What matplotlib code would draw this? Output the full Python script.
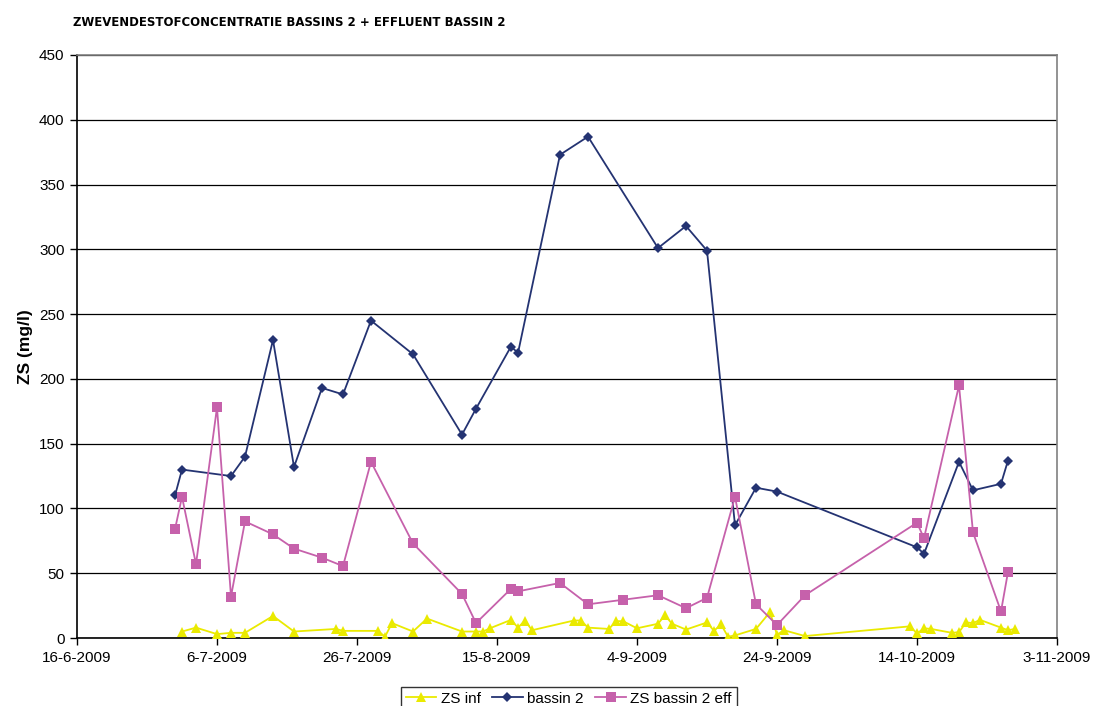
import datetime as dt
import matplotlib
matplotlib.use("Agg")
import matplotlib.pyplot as plt
import matplotlib.dates as mdates
from matplotlib.ticker import MultipleLocator, FuncFormatter

# Sampling days, counted from 16-6-2009
start = dt.date(2009, 6, 16)

inf_days = [15, 17, 20, 22, 24, 28, 31, 37, 38, 43, 44, 45, 48, 50, 55, 57, 58, 59,
            62, 63, 64, 65, 71, 72, 73, 76, 77, 78, 80, 83, 84, 85, 87, 90, 91, 92,
            93, 94, 97, 99, 100, 101, 104, 119, 120, 121, 122, 125, 126, 127, 128,
            129, 132, 133, 134]
zs_inf = [5, 8, 3, 4, 4, 17, 5, 7, 5.5, 5.5, 1, 11.5, 5, 15, 5, 5, 5, 7.5,
          14, 8, 13.5, 6, 13.5, 13.5, 8, 7, 13, 13, 7.5, 11, 17.5, 11, 6.5, 12, 5.5, 10.5,
          1, 2, 7, 20, 2.5, 6, 1.5, 9, 3.5, 7.5, 7, 4, 4.5, 12, 11.5,
          14, 8, 6, 7]

bassin_days = [14, 15, 22, 24, 28, 31, 35, 38, 42, 48, 55, 57, 62, 63, 69, 73, 83,
               87, 90, 94, 97, 100, 120, 121, 126, 128, 132, 133]
bassin2 = [110, 130, 125, 140, 230, 132, 193, 188, 245, 219, 157, 177, 225, 220,
           373, 387, 301, 318, 299, 87, 116, 113, 70, 65, 136, 114, 119, 137]

eff_days = [14, 15, 17, 20, 22, 24, 28, 31, 35, 38, 42, 48, 55, 57, 62, 63, 69, 73,
            78, 83, 87, 90, 94, 97, 100, 104, 120, 121, 126, 128, 132, 133]
zs_eff = [84, 109, 57, 178, 32, 90, 80, 69, 62, 55.5, 136, 73, 34, 11.5, 38, 36,
          42.5, 26, 29.5, 33, 23, 31, 109, 26, 10, 33, 89, 77, 195, 81.5, 20.5, 51]

series_labels = ["ZS inf", "bassin 2", "ZS bassin 2 eff"]
title_text = "ZWEVENDESTOFCONCENTRATIE BASSINS 2 + EFFLUENT BASSIN 2"
ylabel_text = "ZS (mg/l)"


def to_dates(days):
    return [start + dt.timedelta(days=d) for d in days]


def date_label(v, pos):
    d = mdates.num2date(v)
    return f"{d.day}-{d.month}-{d.year}"


plt.rcParams["font.family"] = ["Liberation Sans", "DejaVu Sans"]

fig = plt.figure(figsize=(10.94, 7.06), dpi=100)
ax = fig.add_axes([77 / 1094, 68 / 706, 980 / 1094, 583 / 706])

yellow = "#EAEA00"
navy = "#243372"
pink = "#C661AB"

ax.plot(to_dates(inf_days), zs_inf, color=yellow, lw=1.3, marker="^",
        markersize=7.5, markeredgewidth=0, label=series_labels[0], zorder=3)
ax.plot(to_dates(bassin_days), bassin2, color=navy, lw=1.3, marker="D",
        markersize=5, markeredgewidth=0, label=series_labels[1], zorder=4)
ax.plot(to_dates(eff_days), zs_eff, color=pink, lw=1.3, marker="s",
        markersize=6.5, markeredgewidth=0, label=series_labels[2], zorder=5)

ax.set_xlim(start, start + dt.timedelta(days=140))
ax.set_ylim(0, 450)
ax.set_xticks(to_dates(range(0, 141, 20)))
ax.xaxis.set_major_formatter(FuncFormatter(date_label))
ax.yaxis.set_major_locator(MultipleLocator(50))

ax.grid(axis="y", color="#000000", lw=0.9, zorder=1)
ax.set_axisbelow(True)
ax.tick_params(axis="both", direction="out", length=5, width=1, labelsize=11,
               colors="#000000", pad=4)
for side in ("left", "bottom"):
    ax.spines[side].set_color("#000000")
    ax.spines[side].set_linewidth(1.2)
for side in ("top", "right"):
    ax.spines[side].set_color("#808080")
    ax.spines[side].set_linewidth(1.2)

ax.set_ylabel(ylabel_text, fontsize=12.5, fontweight="bold", labelpad=4)

fig.text(73 / 1094, 1 - 22 / 706, title_text, fontsize=9.4, fontweight="bold",
         family=["DejaVu Sans"], fontstretch="condensed", va="center", ha="left")

leg = fig.legend(loc="upper left", bbox_to_anchor=(401 / 1094, 1 - 687 / 706),
                 ncol=3, fontsize=11, frameon=True, fancybox=False,
                 edgecolor="#000000", handlelength=2.0, handletextpad=0.3,
                 columnspacing=0.75, borderpad=0.3, borderaxespad=0)
leg.get_frame().set_linewidth(1.0)

fig.savefig("out.png", dpi=100)
